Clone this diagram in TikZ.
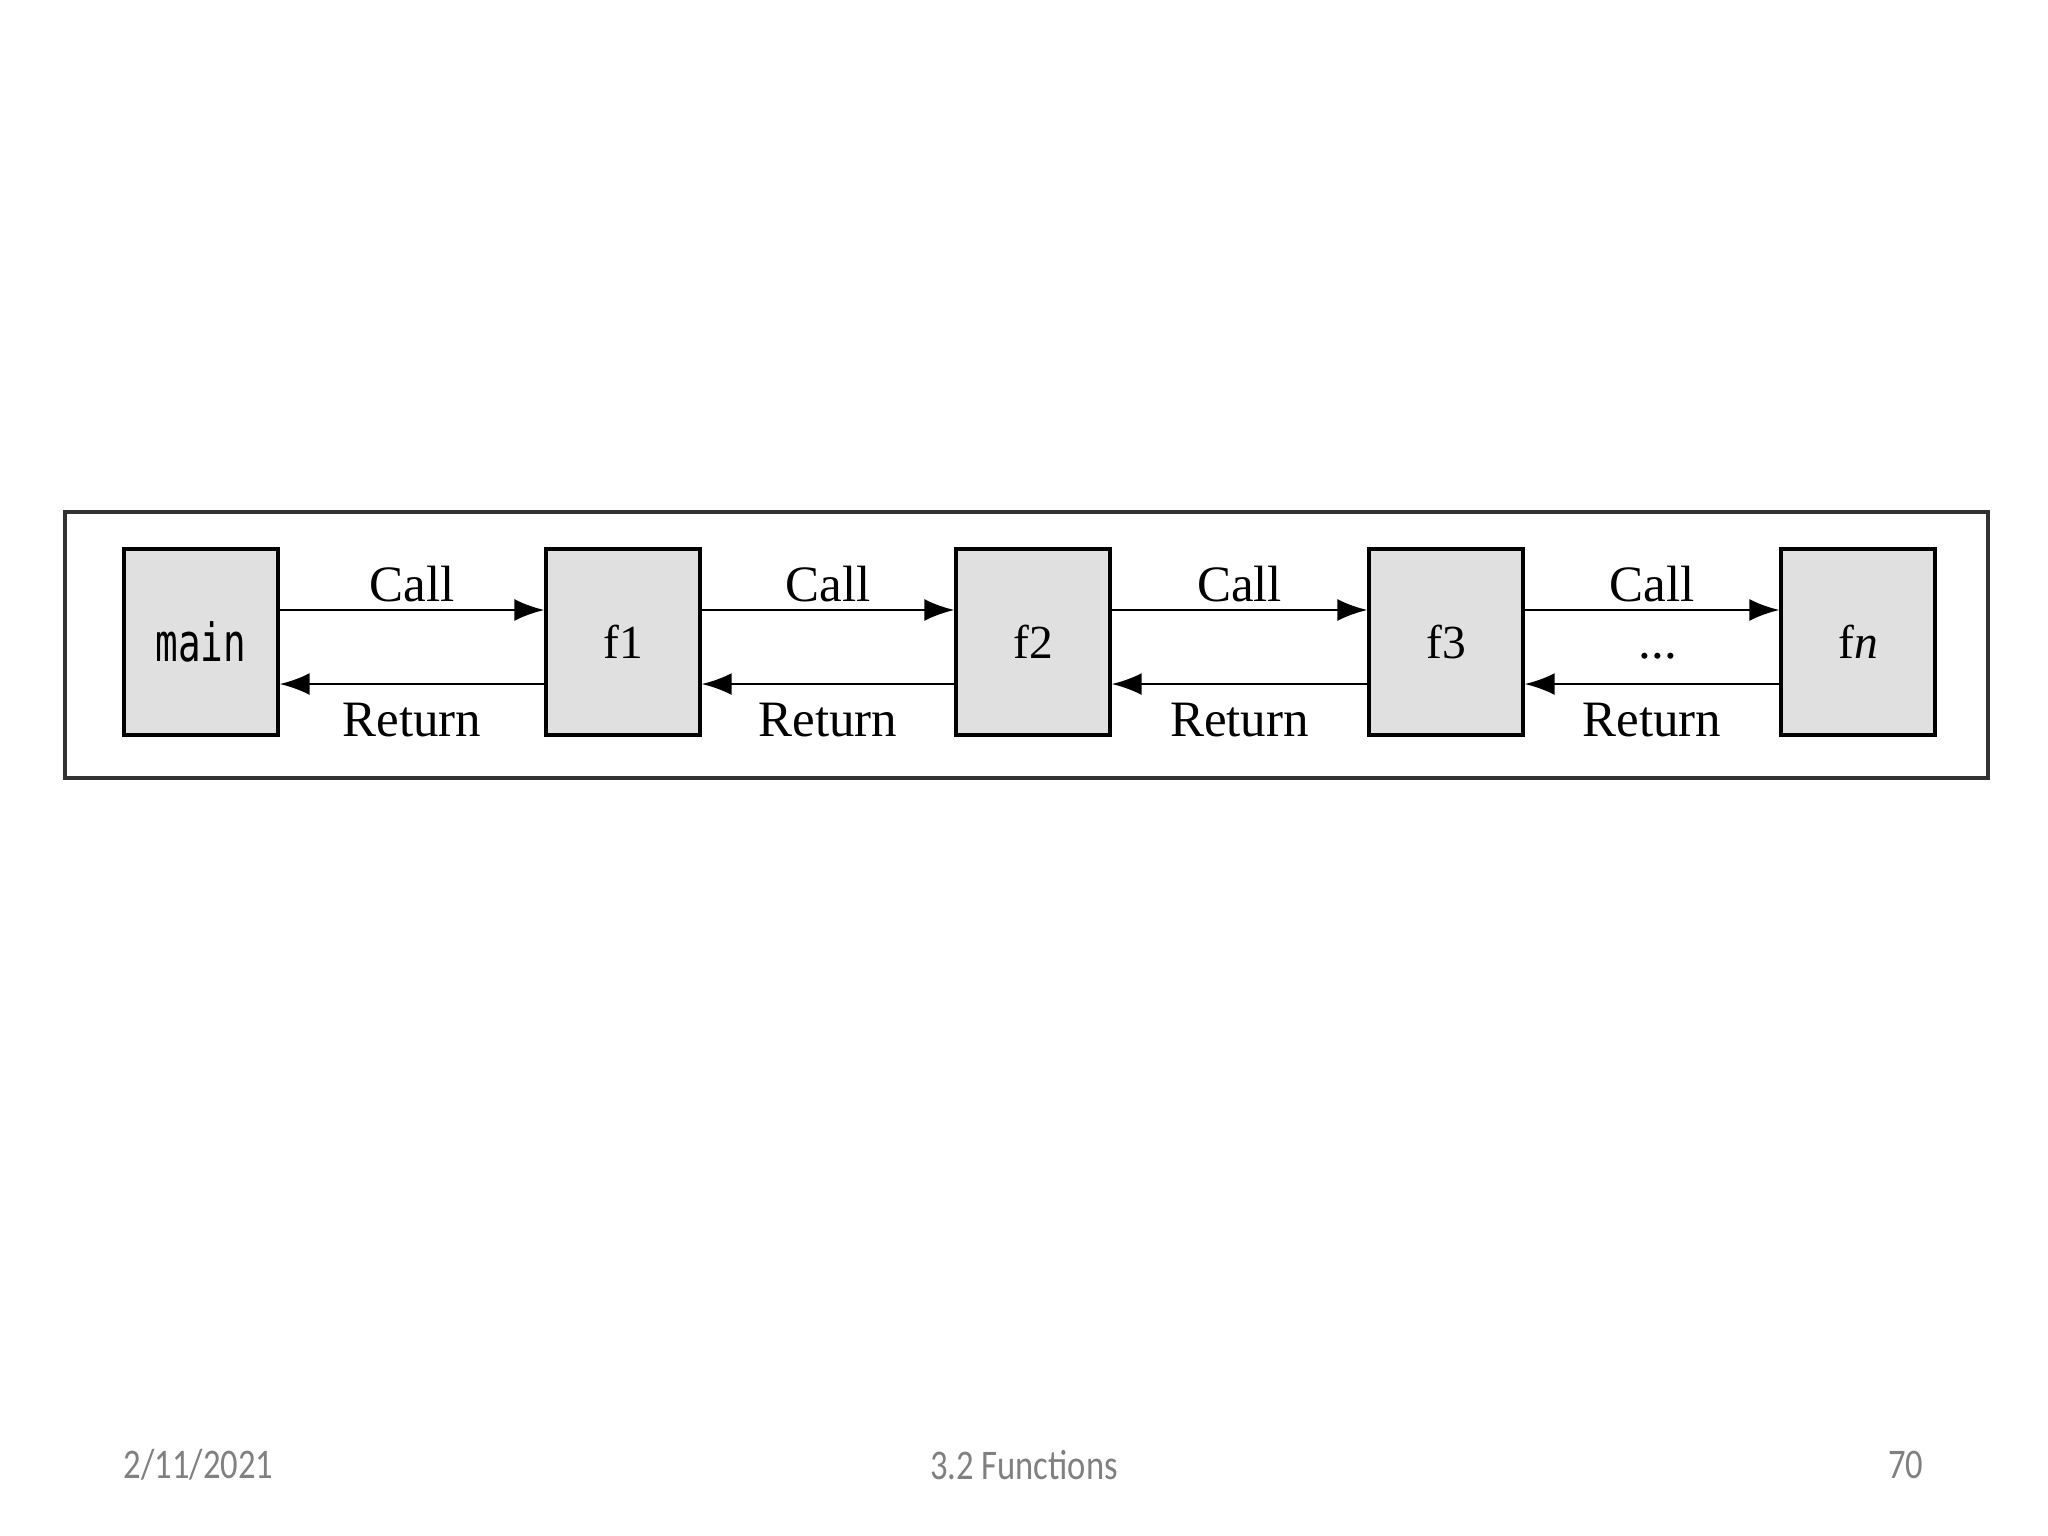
\documentclass[tikz,border=0pt]{standalone}
\usepackage{graphicx}
\usepackage{fontspec}
\setmainfont{Liberation Serif}
\newfontfamily\monofont{DejaVu Sans Mono}
\newfontfamily\footfont{Carlito}
\usetikzlibrary{arrows.meta,positioning}
\definecolor{boxgray}{RGB}{224,224,224}
\definecolor{framegray}{RGB}{50,50,50}
\definecolor{footgray}{RGB}{128,128,128}
\newcommand{\narrow}[1]{\scalebox{0.82}[1]{#1}}

\begin{document}
\begin{tikzpicture}[x=0.01cm,y=-0.01cm,
  box/.style={draw,line width=0.9pt,fill=boxgray,minimum width=1.54cm,minimum height=1.86cm,inner sep=0pt,font=\fontsize{13.5}{16}\selectfont},
  link/.style={line width=0.8pt,-{Latex[length=3mm,width=2.2mm]}},
  lbl/.style={font=\fontsize{14.5}{17}\selectfont,inner sep=2pt},
  foot/.style={font=\footfont\fontsize{12}{14}\selectfont,text=footgray,inner sep=0pt}
]
  \useasboundingbox (0,0) rectangle (2048,1536);
  \draw[line width=0.9pt,framegray] (65,512) rectangle (1988,778);

  % the call chain
  \node[box,font=\monofont\fontsize{11.5}{14}\selectfont] (main) at (201,642) {\scalebox{0.93}[1.3]{main}};
  \node[box] (f1) at (623,642) {f1};
  \node[box] (f2) at (1033,642) {f2};
  \node[box] (f3) at (1446,642) {f3};
  \node[box] (fn) at (1858,642) {f\textit{n}};

  \foreach \a/\b in {main/f1,f1/f2,f2/f3,f3/fn} {
    \draw[link] ([yshift=0.32cm]\a.east) -- ([yshift=0.32cm]\b.west) node[midway,above,lbl] {Call};
    \draw[link] ([yshift=-0.42cm]\b.west) -- ([yshift=-0.42cm]\a.east) node[midway,below=3pt,lbl] {Return};
  }
  \path (f3) -- (fn) node[midway,xshift=0.06cm,yshift=-0.14cm,lbl] (dots) {...};

  % footer
  \node[foot,anchor=west] (date) at (123,1465) {\narrow{2/11/2021}};
  \node[foot] (title) at (1024,1465) {\narrow{3.2 Functions}};
  \node[foot,anchor=east] (page) at (1924,1465) {\narrow{70}};
\end{tikzpicture}
\end{document}
